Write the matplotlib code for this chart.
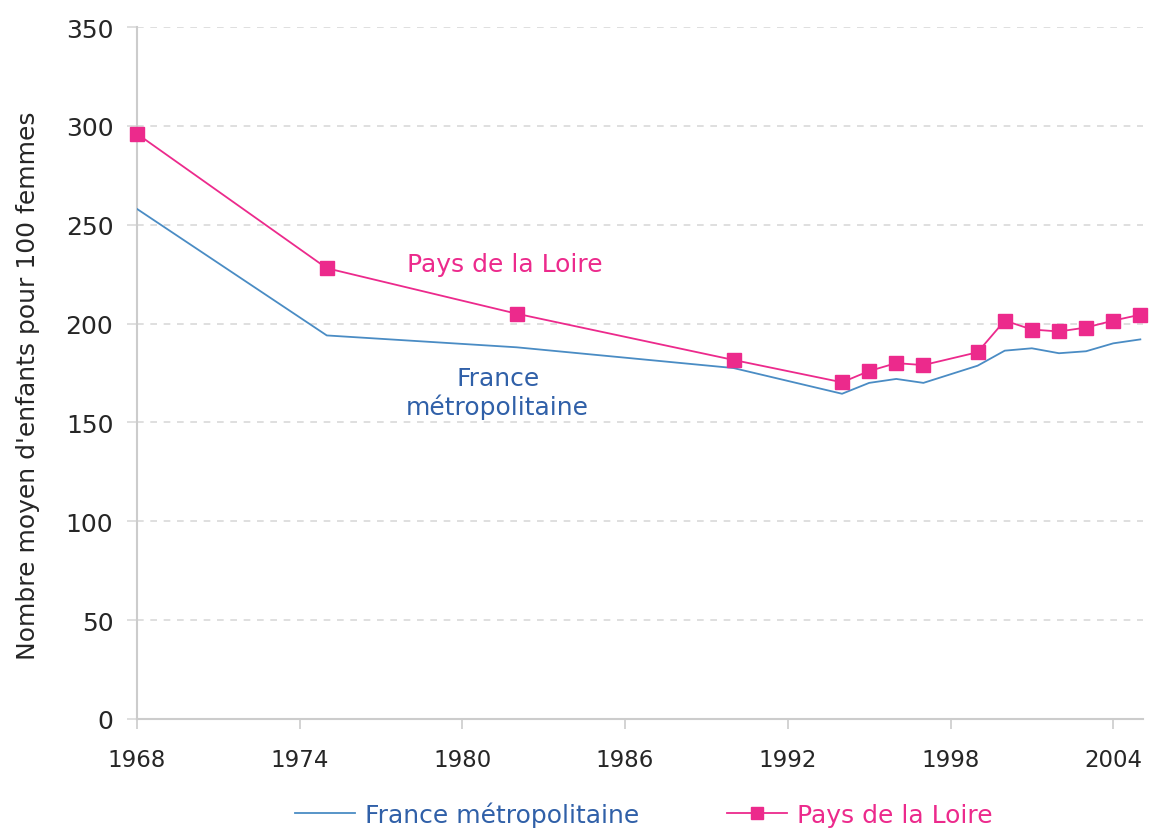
import matplotlib
matplotlib.use("Agg")
import matplotlib.pyplot as plt
from matplotlib.lines import Line2D

years = [1968, 1975, 1982, 1990, 1994, 1995, 1996, 1997, 1999, 2000, 2001, 2002, 2003, 2004, 2005]
france = [258, 194, 188, 177.5, 164.5, 170, 172, 170, 178.7, 186.3, 187.5, 185, 186, 190, 192]
loire = [296, 228, 205, 181.6, 170.3, 176, 180, 179, 185.5, 201.5, 197, 196, 198, 201.5, 204.5]
xticks = [1968, 1974, 1980, 1986, 1992, 1998, 2004]
yticks = [0, 50, 100, 150, 200, 250, 300, 350]

BLUE = "#4a8cc4"
PINK = "#ec2a8c"
BLUE_TXT = "#3060a8"
GRID = "#d9d9d9"
TXT = "#262626"

plt.rcParams['font.family'] = ['DejaVu Sans']

fig = plt.figure(figsize=(11.54, 8.29), dpi=100)
ax = fig.add_axes([0.1187, 0.1315, 0.8718, 0.8347])

ax.plot(years, france, color=BLUE, lw=1.3, zorder=3)
ax.plot(years, loire, color=PINK, lw=1.3, marker='s', markersize=10,
        markerfacecolor=PINK, markeredgecolor=PINK, zorder=4, clip_on=False)

ax.set_xlim(1968, 2005.1)
ax.set_ylim(0, 350)
ax.set_xticks(xticks)
ax.set_yticks(yticks)
ax.yaxis.grid(True, color=GRID, linestyle=(0, (4, 4)), lw=1.2)
ax.set_axisbelow(True)

for s in ['top', 'right']:
    ax.spines[s].set_visible(False)
for s in ['left', 'bottom']:
    ax.spines[s].set_color('#cccccc')
    ax.spines[s].set_linewidth(1.5)

ax.tick_params(axis='x', length=7, color='#cccccc', width=1.2, labelsize=16.5, pad=14, labelcolor=TXT)
ax.tick_params(axis='y', length=7, color=GRID, width=1.2, labelsize=18, pad=10, labelcolor=TXT)

ax.set_ylabel("Nombre moyen d'enfants pour 100 femmes", fontsize=18, color=TXT)
ax.yaxis.set_label_coords(-0.0964, 0.483)

ax.text(1981.56, 230, "Pays de la Loire", color=PINK, fontsize=18, ha='center', va='center')
ax.text(1981.3, 165, "France\nmétropolitaine", color=BLUE_TXT, fontsize=18,
        ha='center', va='center', linespacing=1.15)

handles = [Line2D([], [], color=BLUE, lw=1.3),
           Line2D([], [], color=PINK, lw=1.3, marker='s', markersize=9)]
leg = fig.legend(handles, ["France métropolitaine", "Pays de la Loire"],
                 loc='center', bbox_to_anchor=(0.558, 0.017), ncol=2, frameon=False,
                 fontsize=18, handlelength=2.4, columnspacing=3.5, handletextpad=0.4)
for t, c in zip(leg.get_texts(), [BLUE_TXT, PINK]):
    t.set_color(c)

fig.savefig("out.png", dpi=100)
